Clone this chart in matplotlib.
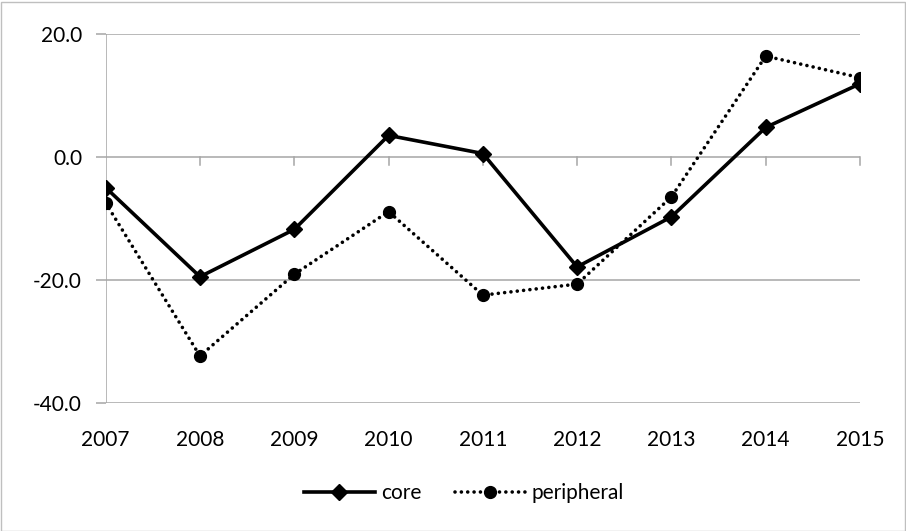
import matplotlib
matplotlib.use("Agg")
import matplotlib.pyplot as plt
from matplotlib.patches import Rectangle
from matplotlib.lines import Line2D

years = ["2007", "2008", "2009", "2010", "2011", "2012", "2013", "2014", "2015"]
core = [-5.0, -19.5, -11.8, 3.5, 0.55, -17.9, -9.75, 4.8, 11.9]
peripheral = [-7.5, -32.4, -19.1, -8.9, -22.5, -20.7, -6.5, 16.4, 12.9]
yticks = [-40, -20, 0, 20]

plt.rcParams['font.family'] = ['Lato', 'DejaVu Sans']

W, H = 906, 531
fig = plt.figure(figsize=(W / 100, H / 100), dpi=100)
left, right, top, bottom = 105.7, 860, 34, 402.7
ax = fig.add_axes([left / W, 1 - bottom / H, (right - left) / W, (bottom - top) / H])

x = list(range(len(years)))
grid_c = "#a6a6a6"
for v in yticks:
    ax.axhline(v, color=grid_c, lw=1.1, zorder=0)
ax.axvline(0, color=grid_c, lw=1.1, zorder=0)
# category tick marks on the zero line
for xi in x[1:]:
    ax.plot([xi, xi], [0, -1.3], color=grid_c, lw=1.1, zorder=0, clip_on=False)

dot_style = (0, (0.01, 1.75))
ax.plot(x, core, color="black", lw=2.6, marker="D", ms=8.5, zorder=3, label="core")
ax.plot(x, peripheral, color="black", lw=2.6, ls=dot_style, marker="o", ms=8.5,
        zorder=2, label="peripheral", dash_capstyle="round")

ax.set_xlim(0, len(years) - 1)
ax.set_ylim(-40, 20)
for s in ax.spines.values():
    s.set_visible(False)
ax.set_yticks(yticks)
ax.set_yticklabels([f"{v:.1f}" for v in yticks], fontsize=15)
ax.tick_params(axis="y", length=7, color=grid_c, width=1.1, pad=10)
ax.set_xticks(x)
ax.set_xticklabels(years, fontsize=15)
ax.tick_params(axis="x", length=0, pad=20)

handles = [
    Line2D([0], [0], color="black", lw=2.6, marker="D", ms=8.5),
    Line2D([0], [0], color="black", lw=2.6, ls=dot_style, marker="o", ms=8.5,
           dash_capstyle="round"),
]
fig.legend(handles, ["core", "peripheral"], loc="center", bbox_to_anchor=(464 / W, 1 - 493 / H),
           ncol=2, frameon=False, fontsize=15, handlelength=3.4, columnspacing=1.6,
           handletextpad=0.3)

fig.patches.append(Rectangle((0.5 / W, 0.5 / H), (W - 2) / W, (H - 2) / H,
                             transform=fig.transFigure, fill=False, ec="#bfbfbf", lw=1))

fig.savefig("out.png", dpi=100)
